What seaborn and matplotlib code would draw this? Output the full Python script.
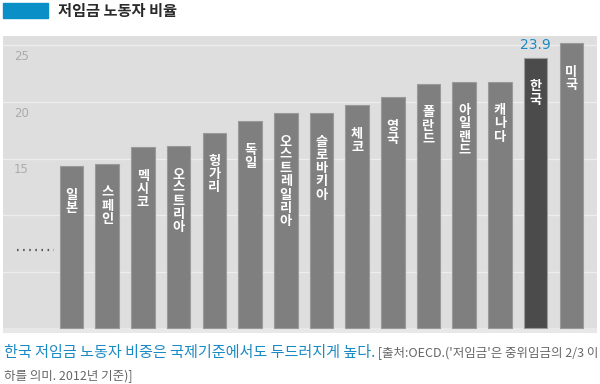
import matplotlib
matplotlib.use("Agg")
import matplotlib.pyplot as plt
import seaborn as sns
import pandas as pd
from matplotlib.patches import Rectangle

countries = ["일본", "스페인", "멕시코", "오스트리아", "헝가리", "독일", "오스트레일리아",
             "슬로바키아", "체코", "영국", "폴란드", "아일랜드", "캐나다", "한국", "미국"]
values = [14.3, 14.5, 16.0, 16.1, 17.3, 18.3, 19.0, 19.0, 19.7, 20.4, 21.6, 21.8, 21.8, 23.9, 25.2]
ytick_vals = [15, 20, 25]
grid_vals = [5, 10, 15, 20, 25]
highlight = "한국"

title = "저임금 노동자 비율"
caption_blue = "한국 저임금 노동자 비중은 국제기준에서도 두드러지게 높다."
caption_gray1 = " [출처:OECD.('저임금'은 중위임금의 2/3 이"
caption_gray2 = "하를 의미. 2012년 기준)]"

sns.set_theme(style="white")
plt.rcParams['font.family'] = ['Noto Sans CJK KR', 'DejaVu Sans']

df = pd.DataFrame({"country": countries, "value": values})
bar_grey = "#7f7f7f"
dark = "#4b4b4b"
palette = {c: (dark if c == highlight else bar_grey) for c in countries}

fig = plt.figure(figsize=(6, 3.84), dpi=100)
fig.patch.set_facecolor("white")
ax = fig.add_axes([3/600, 51/384, 594/600, 297/384])
ax.set_facecolor("#dedede")

for g in grid_vals:
    ax.axhline(g, color="#ededed", lw=1.0, zorder=0)
ax.axhspan(-0.5, 0, color="#e8e8e8", zorder=0.5, lw=0)

sns.barplot(data=df, x="country", y="value", hue="country", palette=palette,
            order=countries, width=0.66, legend=False, ax=ax, zorder=2,
            edgecolor="#9a9a9a", linewidth=0.8)

ax.set_xlim(-1.92, 14.72)
ax.set_ylim(-0.44, 25.84)
ax.set_xlabel("")
ax.set_ylabel("")
ax.set_xticks([])
ax.set_yticks([])
for s in ax.spines.values():
    s.set_visible(False)

# y labels inside the panel
for v in ytick_vals:
    ax.text(0.0185, v - 1.0, str(v), transform=ax.get_yaxis_transform(),
            ha="left", va="center", fontsize=8.5, color="#ababab",
            family=["DejaVu Sans"])

# break indicator dots
ax.plot([0.024, 0.086], [6.9, 6.9], transform=ax.get_yaxis_transform(),
        color="#555555", lw=1.6, linestyle=(0, (0.7, 2.05)), zorder=3, clip_on=False)

# vertical bar labels
for i, (c, v) in enumerate(zip(countries, values)):
    ax.text(i, v - 1.9, "\n".join(c), ha="center", va="top", color="white",
            fontsize=9.5, fontweight="bold", linespacing=0.93, zorder=4)

# value label for Korea
ki = countries.index(highlight)
ax.text(ki, values[ki] + 0.5, f"{values[ki]}", ha="center", va="bottom",
        color="#1a8ac4", fontsize=10, family=["DejaVu Sans"], zorder=4)

# title
fig.patches.append(Rectangle((3/600, 1 - 18/384), 45/600, 15/384,
                             transform=fig.transFigure, color="#0a8fc7"))
fig.text(58/600, 1 - 11/384, title, ha="left", va="center", fontsize=11,
         color="#2a2a2a", fontweight="bold")

# caption
t1 = fig.text(4/600, 1 - 353/384, caption_blue, ha="left", va="center",
              fontsize=10.9, color="#1a8ac4")
ax.annotate(caption_gray1, xy=(1, 0.5), xycoords=t1, ha="left", va="center",
            fontsize=9, color="#666666", annotation_clip=False)
fig.text(4/600, 1 - 376/384, caption_gray2, ha="left", va="center",
         fontsize=9, color="#666666")

fig.savefig("out.png", dpi=100, facecolor="white")
